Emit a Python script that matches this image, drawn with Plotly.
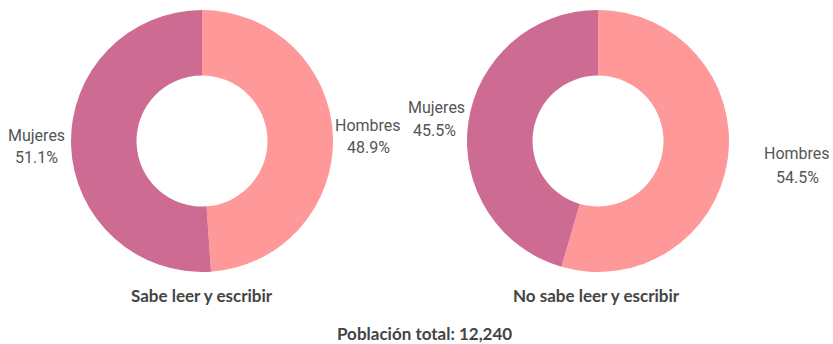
import plotly.graph_objects as go

# Data
groups = ["Sabe leer y escribir", "No sabe leer y escribir"]
sexes = ["Hombres", "Mujeres"]
pct_sabe = [48.9, 51.1]
pct_no_sabe = [54.5, 45.5]
total_population = 12240

colors = ["#FE9899", "#CD6B93"]
W, H = 833, 344


def px(x):
    return x / W


def py(y):
    return 1 - y / H


def domain(cx, cy, r):
    return dict(x=[px(cx - r), px(cx + r)], y=[py(cy + r), py(cy - r)])


fig = go.Figure()
centers = [(202, 141), (598, 141)]
for (cx, cy), vals, name in zip(centers, [pct_sabe, pct_no_sabe], groups):
    fig.add_trace(go.Pie(
        labels=sexes, values=vals, name=name,
        hole=0.5, sort=False, direction="clockwise", rotation=0,
        marker=dict(colors=colors, line=dict(width=0)),
        textinfo="none", hoverinfo="label+percent",
        domain=domain(cx, cy, 131), showlegend=False,
    ))

label_font = dict(family="Roboto, 'Open Sans', sans-serif", size=16, color="#555555")
title_font = dict(family="Lato, sans-serif", size=17, color="#444444")

# label positions: (name_x, name_y, pct_x, pct_y)
label_pos = [
    [(368, 125, 368, 147), (36, 135, 36, 158)],
    [(797, 153, 797, 177), (436, 107, 434, 130)],
]

annotations = []
for vals, positions in zip([pct_sabe, pct_no_sabe], label_pos):
    for sex, v, (nx, ny, qx, qy) in zip(sexes, vals, positions):
        annotations.append(dict(x=px(nx), y=py(ny), text=sex, showarrow=False,
                                xref="paper", yref="paper", font=label_font,
                                xanchor="center", yanchor="middle"))
        annotations.append(dict(x=px(qx), y=py(qy), text=f"{v:.1f}%", showarrow=False,
                                xref="paper", yref="paper", font=label_font,
                                xanchor="center", yanchor="middle"))

for cx, g in zip([202, 596], groups):
    annotations.append(dict(x=px(cx), y=py(295), text=f"<b>{g}</b>", showarrow=False,
                            xref="paper", yref="paper", font=title_font,
                            xanchor="center", yanchor="middle"))

annotations.append(dict(x=px(424), y=py(333), text=f"<b>Población total: {total_population:,}</b>",
                        showarrow=False, xref="paper", yref="paper", font=title_font,
                        xanchor="center", yanchor="middle"))

fig.update_layout(
    width=W, height=H,
    margin=dict(l=0, r=0, t=0, b=0),
    paper_bgcolor="white", plot_bgcolor="white",
    annotations=annotations,
)

fig.write_html("out.html")
